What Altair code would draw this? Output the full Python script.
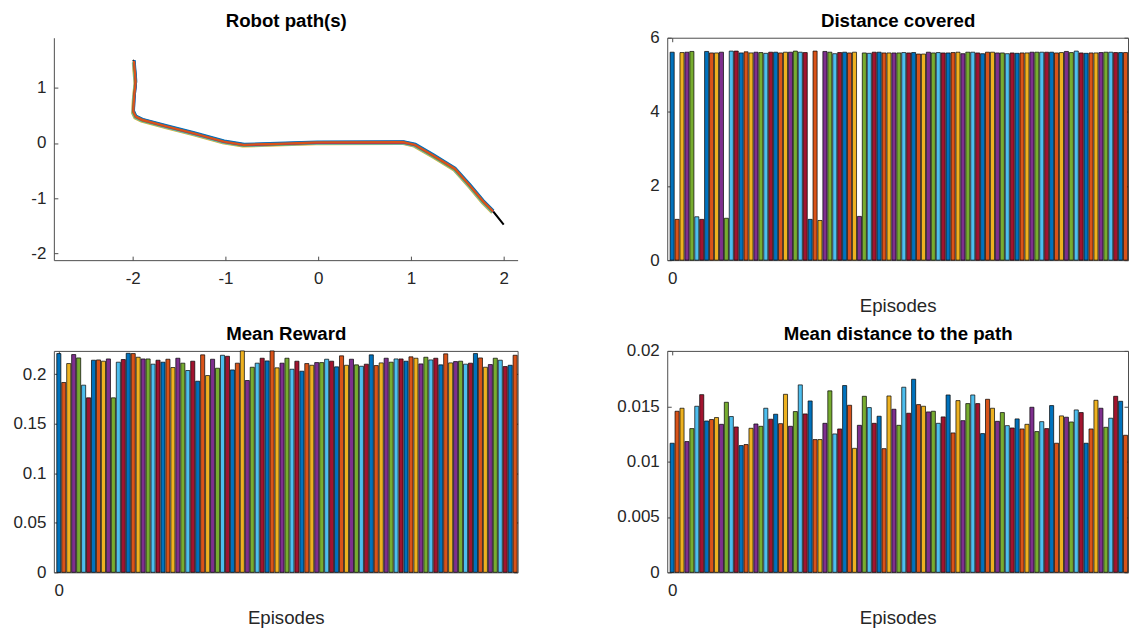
import altair as alt
import pandas as pd

# MATLAB default colour order
COLORS = ["#0072BD", "#D95319", "#EDB120", "#7E2F8E", "#77AC30", "#4DBEEE", "#A2142F"]

distance_covered = [
    5.61, 1.10, 5.60, 5.61, 5.63, 1.17, 1.10, 5.63, 5.59, 5.59,
    5.61, 1.13, 5.64, 5.64, 5.59, 5.62, 5.59, 5.61, 5.60, 5.58,
    5.61, 5.61, 5.59, 5.61, 5.61, 5.64, 5.61, 5.60, 1.10, 5.64,
    1.07, 5.63, 5.61, 5.57, 5.60, 5.61, 5.59, 5.61, 1.18, 5.59,
    5.58, 5.61, 5.61, 5.59, 5.59, 5.59, 5.59, 5.60, 5.59, 5.60,
    5.56, 5.56, 5.61, 5.59, 5.60, 5.59, 5.59, 5.60, 5.61, 5.57,
    5.61, 5.61, 5.59, 5.57, 5.61, 5.61, 5.59, 5.59, 5.57, 5.59,
    5.58, 5.59, 5.59, 5.61, 5.61, 5.61, 5.61, 5.61, 5.59, 5.60,
    5.63, 5.60, 5.64, 5.59, 5.58, 5.59, 5.59, 5.60, 5.61, 5.61,
    5.60, 5.60, 5.60,
]

mean_reward = [
    0.2209, 0.1917, 0.2108, 0.2199, 0.2165, 0.1890, 0.1762, 0.2142, 0.2145, 0.2132,
    0.2155, 0.1762, 0.2122, 0.2149, 0.2212, 0.2209, 0.2172, 0.2155, 0.2155, 0.2102,
    0.2142, 0.2122, 0.2152, 0.2068, 0.2162, 0.2112, 0.2038, 0.2132, 0.1930, 0.2196,
    0.1987, 0.2152, 0.2061, 0.2192, 0.2182, 0.2044, 0.2112, 0.2236, 0.1937, 0.2071,
    0.2112, 0.2162, 0.2135, 0.2236, 0.2065, 0.2112, 0.2162, 0.2051, 0.2132, 0.2031,
    0.2108, 0.2091, 0.2118, 0.2118, 0.2152, 0.2132, 0.2075, 0.2186, 0.2091, 0.2152,
    0.2095, 0.2081, 0.2102, 0.2196, 0.2088, 0.2115, 0.2162, 0.2122, 0.2155, 0.2155,
    0.2132, 0.2176, 0.2162, 0.2105, 0.2172, 0.2145, 0.2162, 0.2095, 0.2206, 0.2115,
    0.2128, 0.2132, 0.2102, 0.2112, 0.2209, 0.2165, 0.2071, 0.2098, 0.2162, 0.2142,
    0.2078, 0.2091, 0.2192,
]

mean_path_distance = [
    0.01166, 0.01455, 0.01482, 0.01181, 0.01298, 0.01500, 0.01605, 0.01367, 0.01380, 0.01398,
    0.01337, 0.01536, 0.01407, 0.01313, 0.01145, 0.01154, 0.01301, 0.01340, 0.01319, 0.01482,
    0.01383, 0.01428, 0.01343, 0.01608, 0.01319, 0.01452, 0.01693, 0.01431, 0.01548, 0.01199,
    0.01199, 0.01346, 0.01639, 0.01250, 0.01295, 0.01687, 0.01509, 0.01120, 0.01328, 0.01590,
    0.01488, 0.01346, 0.01410, 0.01117, 0.01593, 0.01473, 0.01328, 0.01672, 0.01437, 0.01744,
    0.01515, 0.01500, 0.01449, 0.01455, 0.01346, 0.01404, 0.01602, 0.01259, 0.01551, 0.01370,
    0.01524, 0.01602, 0.01524, 0.01253, 0.01563, 0.01482, 0.01364, 0.01443, 0.01325, 0.01304,
    0.01386, 0.01295, 0.01337, 0.01491, 0.01271, 0.01361, 0.01298, 0.01506, 0.01166, 0.01413,
    0.01401, 0.01358, 0.01467, 0.01443, 0.01166, 0.01295, 0.01554, 0.01482, 0.01310, 0.01392,
    0.01590, 0.01545, 0.01238,
]

# robot path (common shape)
path_x = [-1.986, -1.968, -1.986, -1.993, -1.968, -1.896, -1.627, -1.341, -1.018, -0.803,
          -0.444, -0.014, 0.917, 1.043, 1.240, 1.473, 1.634, 1.778, 1.885]
path_y = [1.486, 1.112, 0.810, 0.570, 0.479, 0.419, 0.298, 0.177, 0.027, -0.033,
          -0.015, 0.009, 0.015, -0.033, -0.226, -0.467, -0.769, -1.058, -1.239]
# reference path: start and end points beyond the robot paths
ref_start = (-2.0, 1.5)
ref_end = (2.0, -1.48)
# per-trajectory displacement (estimated), drawn in this order (orange last)
traj_colors = ["#EDB120", "#4DBEEE", "#77AC30", "#7E2F8E", "#A2142F", "#0072BD", "#D95319"]
traj_dx = [-0.012, -0.008, -0.004, 0.004, 0.002, 0.006, 0.0]
traj_dy = [-0.030, -0.022, -0.014, -0.008, 0.008, 0.016, 0.0]

AX = "#4d4d4d"
TXT = "#262626"
LF = 17
TF = 18.7
NUM = "'' + datum.value"


def lab_axis(orient, values, extent, domain, title=None, title_pad=0, pad=8):
    kw = dict(orient=orient, values=values, ticks=False, tickSize=0, domain=domain,
              labelPadding=pad, labelFlush=False, labelExpr=NUM,
              minExtent=extent, maxExtent=extent)
    if title:
        kw.update(title=title, titlePadding=title_pad)
    else:
        kw.update(title=None)
    return alt.Axis(**kw)


def tick_axis(orient, values, ticks=True, title=None):
    kw = dict(orient=orient, values=values, offset=-4, tickSize=4, ticks=ticks,
              labels=False, domain=False, minExtent=0, maxExtent=0)
    if title:
        kw.update(title=title, titlePadding=15, titleFontWeight="bold", titleColor="#000000",
                  titleBaseline="alphabetic", titleFontSize=TF)
    else:
        kw.update(title=None)
    return alt.Axis(**kw)


N = len(distance_covered)
episodes = list(range(N))
color_key = [str(i % 7) for i in episodes]


def bar_panel(values, ydom, yticks, title, width, height, yext):
    df = pd.DataFrame({"ep": episodes, "v": values, "c": color_key})
    xs = alt.Scale(domain=[-1.0, 92.5], nice=False, zero=False, padding=0)
    ys = alt.Scale(domain=ydom, nice=False, zero=False, padding=0)
    base = alt.Chart(df)
    bars = base.mark_bar(size=4.1, stroke="black", strokeWidth=0.7).encode(
        x=alt.X("ep:Q", scale=xs,
                axis=lab_axis("bottom", [0], 26, False, title="Episodes", title_pad=10.6, pad=10.5)),
        y=alt.Y("v:Q", scale=ys, axis=lab_axis("left", yticks, yext, False)),
        color=alt.Color("c:N", scale=alt.Scale(domain=[str(i) for i in range(7)], range=COLORS),
                        legend=None),
    )
    t1 = base.mark_point(opacity=0).encode(
        x=alt.X("ep:Q", scale=xs, axis=tick_axis("bottom", [0])),
        y=alt.Y("v:Q", scale=ys, axis=tick_axis("left", yticks)),
    )
    t2 = base.mark_point(opacity=0).encode(
        x=alt.X("ep:Q", scale=xs, axis=tick_axis("top", [0], title=title)),
        y=alt.Y("v:Q", scale=ys, axis=tick_axis("right", yticks)),
    )
    return alt.layer(bars, t1, t2).resolve_axis(x="independent", y="independent").properties(
        width=width, height=height)


def path_panel(width, height, yext):
    xs = alt.Scale(domain=[-2.85, 2.15], nice=False, zero=False, padding=0)
    ys = alt.Scale(domain=[-2.125, 1.908], nice=False, zero=False, padding=0)
    rx = [ref_start[0]] + path_x + [ref_end[0]]
    ry = [ref_start[1]] + path_y + [ref_end[1]]
    ref_df = pd.DataFrame({"x": rx, "y": ry, "i": list(range(len(rx)))})
    ref = alt.Chart(ref_df).mark_line(color="black", strokeWidth=2, clip=True).encode(
        x=alt.X("x:Q", scale=xs, axis=lab_axis("bottom", [-2, -1, 0, 1, 2], 26, True, pad=10.5)),
        y=alt.Y("y:Q", scale=ys, axis=lab_axis("left", [-2, -1, 0, 1], yext, True)),
        order=alt.Order("i:Q"),
    )
    layers = [ref]
    for k, col in enumerate(traj_colors):
        df = pd.DataFrame({
            "x": [v + traj_dx[k] for v in path_x],
            "y": [v + traj_dy[k] for v in path_y],
            "i": list(range(len(path_x))),
        })
        layers.append(alt.Chart(df).mark_line(color=col, strokeWidth=2.2, clip=True).encode(
            x=alt.X("x:Q", scale=xs, axis=None),
            y=alt.Y("y:Q", scale=ys, axis=None),
            order=alt.Order("i:Q"),
        ))
    layers.append(alt.Chart(ref_df).mark_point(opacity=0).encode(
        x=alt.X("x:Q", scale=xs, axis=tick_axis("bottom", [-2, -1, 0, 1, 2])),
        y=alt.Y("y:Q", scale=ys, axis=tick_axis("left", [-2, -1, 0, 1])),
    ))
    layers.append(alt.Chart(ref_df).mark_point(opacity=0).encode(
        x=alt.X("x:Q", scale=xs, axis=tick_axis("top", [0], ticks=False, title="Robot path(s)")),
        y=alt.Y("y:Q", scale=ys, axis=None),
    ))
    return alt.layer(*layers).resolve_axis(x="independent", y="independent").properties(
        width=width, height=height, view=alt.ViewBackground(stroke="transparent"))


tl = path_panel(465, 223, 44)
tr = bar_panel(distance_covered, [0, 6], [0, 2, 4, 6], "Distance covered", 462, 223, 56)
bl = bar_panel(mean_reward, [0, 0.2236], [0, 0.05, 0.1, 0.15, 0.2], "Mean Reward", 465, 222, 44)
br = bar_panel(mean_path_distance, [0, 0.02], [0, 0.005, 0.01, 0.015, 0.02],
               "Mean distance to the path", 462, 222, 56)

chart = alt.concat(tl, tr, bl, br, columns=2, align="each",
                   spacing={"row": 8, "column": 92}).properties(
    padding={"left": 9, "top": 10, "right": 0, "bottom": 0}
).configure(font="Liberation Sans").configure_view(
    stroke=AX, strokeWidth=1
).configure_axis(
    labelFontSize=LF, labelColor=TXT, titleFontSize=TF, titleColor=TXT,
    titleFontWeight="normal", grid=False, domainColor=AX, tickColor=AX,
    domainWidth=1, tickWidth=1,
)

chart.save("out.html", embed_options={"renderer": "svg", "actions": False})
